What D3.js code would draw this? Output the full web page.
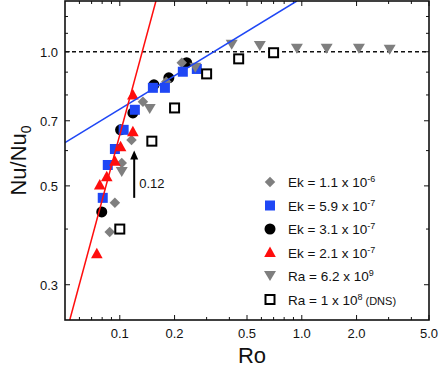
<!DOCTYPE html>
<html>
<head>
<meta charset="utf-8">
<script src="https://cdn.jsdelivr.net/npm/d3@7"></script>
<style>
  body { margin: 0; background: #fff; }
  svg text { font-family: "Liberation Sans", Arial, sans-serif; fill: #111; }
  .tick-label { font-size: 13px; }
  .axis-title { font-size: 22px; }
  .legend-text { font-size: 13.5px; }
</style>
</head>
<body>
<div id="chart"></div>
<script>
// ---- size of the picture
const w = 443;
const h = 372;

// ---- plot box
const pLeft = 65;
const pRight = 14;
const pTop = 1;
const pBottom = 52;

// ---- axes
const xDomain = [0.05, 5.0];
const yDomain = [0.25, 1.3];
const xTicks = [0.1, 0.2, 0.5, 1.0, 2.0, 5.0];
const xTickLabels = ["0.1", "0.2", "0.5", "1.0", "2.0", "5.0"];
const xMinor = [0.06, 0.07, 0.08, 0.09, 0.3, 0.4, 0.6, 0.7, 0.8, 0.9, 3.0, 4.0];
const yTicks = [0.3, 0.5, 0.7, 1.0];
const yTickLabels = ["0.3", "0.5", "0.7", "1.0"];
const yMinor = [0.4, 0.6, 0.8, 0.9, 1.1, 1.2];

// ---- series (Ro, Nu/Nu0)
const ek11 = [[0.088, 0.394], [0.094, 0.458], [0.1025, 0.563], [0.116, 0.634],
              [0.134, 0.772], [0.18, 0.856], [0.219, 0.945]];
const ek59 = [[0.0806, 0.470], [0.0859, 0.557], [0.094, 0.605], [0.105, 0.668],
              [0.121, 0.741], [0.152, 0.830], [0.177, 0.830], [0.222, 0.902], [0.265, 0.915]];
const ek31 = [[0.0796, 0.437], [0.101, 0.668], [0.118, 0.729], [0.154, 0.843],
              [0.186, 0.874], [0.233, 0.945]];
const ek21 = [[0.0748, 0.352], [0.0776, 0.502], [0.0848, 0.524], [0.094, 0.568],
              [0.101, 0.612], [0.118, 0.661], [0.118, 0.800]];
const ra62 = [[0.1025, 0.537], [0.146, 0.744], [0.26, 0.921], [0.412, 1.037], [0.588, 1.03],
              [0.94, 1.016], [1.37, 1.016], [2.06, 1.016], [3.04, 1.01]];
const dns = [[0.1, 0.40], [0.150, 0.63], [0.2, 0.748], [0.30, 0.892], [0.45, 0.964], [0.70, 0.995]];

// ---- power-law fits (end points)
const redFit = [[0.0531, 0.25], [0.158, 1.30]];
const blueFit = [[0.05, 0.625], [0.939, 1.30]];

// ---- annotation
const arrowRo = 0.12;
const arrowNu = [0.47, 0.60];
const arrowText = "0.12";

const legendItems = [
    { shape: "diamond", label: "Ek = 1.1 x 10", sup: "-6", extra: "" },
    { shape: "square", label: "Ek = 5.9 x 10", sup: "-7", extra: "" },
    { shape: "circle", label: "Ek = 3.1 x 10", sup: "-7", extra: "" },
    { shape: "triUp", label: "Ek = 2.1 x 10", sup: "-7", extra: "" },
    { shape: "triDown", label: "Ra = 6.2 x 10", sup: "9", extra: "" },
    { shape: "open", label: "Ra = 1 x 10", sup: "8", extra: " (DNS)" },
];

const gray = "#7f7f7f";
const blue = "#1f47f5";
const red = "#ff0d0d";

// SCALES
const xScale = d3.scaleLog().domain(xDomain).range([pLeft, w - pRight]);
const yScale = d3.scaleLog().domain(yDomain).range([h - pBottom, pTop]);

const svg = d3.select("#chart").append("svg").attr("width", w).attr("height", h);

svg.append("clipPath").attr("id", "clip")
    .append("rect")
    .attr("x", pLeft).attr("y", pTop)
    .attr("width", w - pLeft - pRight).attr("height", h - pTop - pBottom);

// TICKS (inside, mirrored on all four sides)
const x0 = pLeft, x1 = w - pRight, y0 = h - pBottom, y1 = pTop;
const tickG = svg.append("g").attr("stroke", "#111").attr("stroke-width", 1);
xTicks.concat(xMinor).forEach((t) => {
    const len = xTicks.includes(t) ? 5 : 3;
    const x = xScale(t);
    tickG.append("line").attr("x1", x).attr("x2", x).attr("y1", y0).attr("y2", y0 - len);
    tickG.append("line").attr("x1", x).attr("x2", x).attr("y1", y1).attr("y2", y1 + len);
});
yTicks.concat(yMinor).forEach((t) => {
    const len = yTicks.includes(t) ? 5 : 3;
    const y = yScale(t);
    tickG.append("line").attr("x1", x0).attr("x2", x0 + len).attr("y1", y).attr("y2", y);
    tickG.append("line").attr("x1", x1).attr("x2", x1 - len).attr("y1", y).attr("y2", y);
});

// TICK LABELS
svg.append("g").selectAll("text").data(xTicks).enter().append("text")
    .attr("class", "tick-label")
    .attr("x", (d) => xScale(d))
    .attr("y", y0 + 18)
    .attr("text-anchor", "middle")
    .text((d, i) => xTickLabels[i]);
svg.append("g").selectAll("text").data(yTicks).enter().append("text")
    .attr("class", "tick-label")
    .attr("x", x0 - 7)
    .attr("y", (d) => yScale(d) + 5)
    .attr("text-anchor", "end")
    .text((d, i) => yTickLabels[i]);

// AXIS TITLES
svg.append("text").attr("class", "axis-title")
    .attr("x", (x0 + x1) / 2 + 5).attr("y", h - 9)
    .attr("text-anchor", "middle").text("Ro");
const yt = svg.append("text").attr("class", "axis-title")
    .attr("transform", `translate(26, ${(y0 + y1) / 2}) rotate(-90)`)
    .attr("text-anchor", "middle");
yt.append("tspan").text("Nu/Nu");
yt.append("tspan").attr("font-size", "14px").attr("dy", 5).text("0");

// DASHED LINE at 1.0
svg.append("line")
    .attr("x1", x0).attr("x2", x1)
    .attr("y1", yScale(1)).attr("y2", yScale(1))
    .attr("stroke", "#111").attr("stroke-width", 1.3)
    .attr("stroke-dasharray", "4,3");

// MARKERS
function drawMarker(g, shape) {
    if (shape === "diamond") {
        g.append("path").attr("d", d3.symbol().type(d3.symbolSquare).size(55)())
            .attr("transform", "rotate(45)").attr("fill", gray);
    } else if (shape === "square") {
        g.append("rect").attr("x", -5).attr("y", -5).attr("width", 10).attr("height", 10).attr("fill", blue);
    } else if (shape === "circle") {
        g.append("circle").attr("r", 5.5).attr("fill", "#000");
    } else if (shape === "triUp") {
        g.append("path").attr("d", "M0,-6L5.8,4.5L-5.8,4.5Z").attr("fill", red);
    } else if (shape === "triDown") {
        g.append("path").attr("d", "M0,5L-6,-5L6,-5Z").attr("fill", gray);
    } else if (shape === "open") {
        g.append("rect").attr("x", -4.5).attr("y", -4.5).attr("width", 9).attr("height", 9)
            .attr("fill", "#fff").attr("stroke", "#000").attr("stroke-width", 2);
    }
}
function drawSeries(data, shape) {
    svg.append("g").selectAll("g").data(data).enter().append("g")
        .attr("transform", (d) => `translate(${xScale(d[0])}, ${yScale(d[1])})`)
        .each(function () { drawMarker(d3.select(this), shape); });
}
drawSeries(ek31, "circle");
drawSeries(ek11, "diamond");
drawSeries(ek59, "square");
drawSeries(ek21, "triUp");
drawSeries(ra62, "triDown");
drawSeries(dns, "open");

// FIT LINES
const line = d3.line().x((d) => xScale(d[0])).y((d) => yScale(d[1]));
svg.append("path").attr("d", line(blueFit)).attr("clip-path", "url(#clip)")
    .attr("fill", "none").attr("stroke", blue).attr("stroke-width", 1.5);
svg.append("path").attr("d", line(redFit)).attr("clip-path", "url(#clip)")
    .attr("fill", "none").attr("stroke", red).attr("stroke-width", 1.5);

// ARROW
const ax = xScale(arrowRo);
svg.append("line").attr("x1", ax).attr("x2", ax)
    .attr("y1", yScale(arrowNu[0])).attr("y2", yScale(arrowNu[1]) + 6)
    .attr("stroke", "#000").attr("stroke-width", 2);
svg.append("path")
    .attr("d", `M${ax},${yScale(arrowNu[1])}L${ax - 4},${yScale(arrowNu[1]) + 9}L${ax + 4},${yScale(arrowNu[1]) + 9}Z`)
    .attr("fill", "#000");
svg.append("text").attr("class", "tick-label")
    .attr("x", ax + 5).attr("y", yScale(arrowNu[0]) - 10)
    .text(arrowText);

// LEGEND
const legend = svg.append("g").selectAll("g").data(legendItems).enter().append("g")
    .attr("transform", (d, i) => `translate(270, ${182 + i * 23.5})`);
legend.each(function (d) { drawMarker(d3.select(this), d.shape); });
const lt = legend.append("text").attr("class", "legend-text").attr("x", 18).attr("y", 5);
lt.append("tspan").text((d) => d.label);
lt.append("tspan").attr("font-size", "9px").attr("dy", -5).text((d) => d.sup);
lt.append("tspan").attr("font-size", "11px").attr("dy", 5).text((d) => d.extra);

// FRAME
svg.append("rect")
    .attr("x", x0).attr("y", y1)
    .attr("width", x1 - x0).attr("height", y0 - y1)
    .attr("fill", "none").attr("stroke", "#111").attr("stroke-width", 1.6);
</script>
</body>
</html>
